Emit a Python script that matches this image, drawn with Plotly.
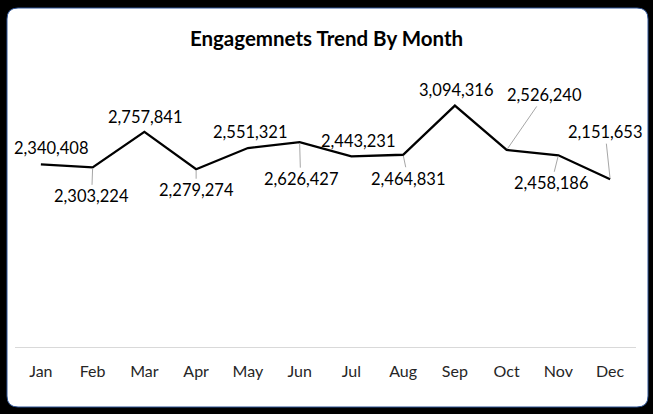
import plotly.graph_objects as go

months = ["Jan", "Feb", "Mar", "Apr", "May", "Jun",
          "Jul", "Aug", "Sep", "Oct", "Nov", "Dec"]
engagements = [2340408, 2303224, 2757841, 2279274, 2551321, 2626427,
               2443231, 2464831, 3094316, 2526240, 2458186, 2151653]

# label placement (pixel offset from point) and whether excel drew a leader line
label_dx = [10, -1, 1, 0, 2, 1, 7, 5, 1, 38, -7, -5]
label_dy = [-16, 29, -15, 21, -16, 37, -15, 24, -16, -55, 28, -47]
leader = [False, True, False, True, False, True, False, True, False, True, True, True]

W, H = 653, 414
L, R, T, B = 15, 17, 74, 67


def px(x, y):
    # pixel -> paper coords of the plot area
    return (x - L) / (W - L - R), (H - B - y) / (H - T - B)


def rounded_box(x0, y0, x1, y1, r):
    pts = []
    a = px(x0 + r, y0); pts.append("M %f,%f" % a)
    b = px(x1 - r, y0); pts.append("L %f,%f" % b)
    c = px(x1, y0); d = px(x1, y0 + r); pts.append("Q %f,%f %f,%f" % (c + d))
    e = px(x1, y1 - r); pts.append("L %f,%f" % e)
    f = px(x1, y1); g = px(x1 - r, y1); pts.append("Q %f,%f %f,%f" % (f + g))
    h = px(x0 + r, y1); pts.append("L %f,%f" % h)
    i = px(x0, y1); j = px(x0, y1 - r); pts.append("Q %f,%f %f,%f" % (i + j))
    k = px(x0, y0 + r); pts.append("L %f,%f" % k)
    m = px(x0, y0); n = px(x0 + r, y0); pts.append("Q %f,%f %f,%f" % (m + n))
    return " ".join(pts) + " Z"


fig = go.Figure()
fig.add_trace(go.Scatter(x=months, y=engagements, mode="lines",
                         line=dict(color="black", width=2.3), hoverinfo="x+y"))

for m, v, dx, dy, ld in zip(months, engagements, label_dx, label_dy, leader):
    fig.add_annotation(x=m, y=v, text=f"{v:,}", showarrow=True, ax=dx, ay=dy,
                       arrowhead=0, arrowwidth=1, standoff=1,
                       arrowcolor="#a6a6a6" if ld else "rgba(0,0,0,0)",
                       font=dict(family="Lato", size=16.5, color="black"))

fig.add_shape(type="path", xref="paper", yref="paper", layer="below",
              path=rounded_box(7, 8, 648, 407, 11),
              fillcolor="white", line=dict(color="#2f5597", width=1))

fig.update_layout(
    width=W, height=H,
    margin=dict(l=L, r=R, t=T, b=B),
    paper_bgcolor="black",
    plot_bgcolor="rgba(0,0,0,0)",
    showlegend=False,
    title=dict(text="<b>Engagemnets Trend By Month</b>", x=0.5, xanchor="center",
               y=1 - 39 / H, yanchor="middle", yref="container",
               font=dict(family="Lato", size=20.5, color="black")),
    xaxis=dict(range=[-0.5, 11.5], showline=True, linecolor="#d9d9d9", linewidth=1,
               showgrid=False, zeroline=False, ticks="", ticklabelstandoff=10,
               tickfont=dict(family="Lato", size=16, color="#262626")),
    yaxis=dict(range=[0, 3500000], visible=False, showgrid=False),
)

fig.write_html("out.html", config={"displayModeBar": False},
               post_script="document.body.style.margin='0';document.body.style.overflow='hidden';")
